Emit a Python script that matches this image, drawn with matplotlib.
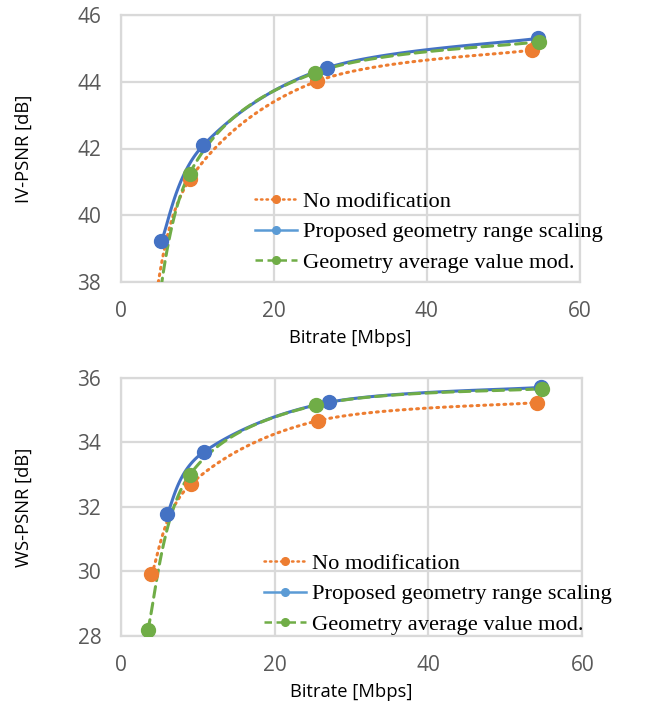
import numpy as np
import matplotlib
matplotlib.use("Agg")
import matplotlib.pyplot as plt
from matplotlib.lines import Line2D

# values (bitrate in Mbps, quality in dB)
iv_no_x = [4.0, 9.1, 25.7, 53.7]
iv_no_y = [36.8, 41.1, 44.02, 44.95]
iv_prop_x = [5.3, 10.8, 27.0, 54.5]
iv_prop_y = [39.22, 42.1, 44.42, 45.3]
iv_avg_x = [3.6, 9.0, 25.4, 54.6]
iv_avg_y = [34.8, 41.25, 44.27, 45.2]

ws_no_x = [4.0, 9.1, 25.7, 54.1]
ws_no_y = [29.91, 32.7, 34.67, 35.23]
ws_prop_x = [6.0, 10.8, 27.1, 54.6]
ws_prop_y = [31.77, 33.7, 35.24, 35.7]
ws_avg_x = [3.5, 9.0, 25.4, 54.8]
ws_avg_y = [28.18, 33.0, 35.15, 35.66]

labels = ["No modification", "Proposed geometry range scaling", "Geometry average value mod."]
c_orange = "#ED7D31"
c_blue = "#4472C4"
c_blue_leg = "#5B9BD5"
c_green = "#70AD47"
grid_c = "#D9D9D9"
tick_c = "#595959"

W, H = 667, 706
fig = plt.figure(figsize=(W / 100, H / 100), dpi=100)


def smooth(ax, xs, ys, n=40):
    # Excel-style smoothed line: bezier through the points, done in screen space
    pts = ax.transData.transform(np.column_stack([xs, ys]))
    p = np.vstack([pts[0], pts, pts[-1]])
    out = []
    for i in range(1, len(p) - 2):
        p0, p1, p2, p3 = p[i - 1], p[i], p[i + 1], p[i + 2]
        c1 = p1 + (p2 - p0) / 6.0
        c2 = p2 - (p3 - p1) / 6.0
        t = np.linspace(0, 1, n)[:, None]
        seg = ((1 - t) ** 3) * p1 + 3 * ((1 - t) ** 2) * t * c1 + 3 * (1 - t) * t ** 2 * c2 + t ** 3 * p2
        out.append(seg if i == 1 else seg[1:])
    out = np.vstack(out)
    d = ax.transData.inverted().transform(out)
    return d[:, 0], d[:, 1]


def panel(rect, ylim, yticks, ylabel, series, leg_pos):
    ax = fig.add_axes(rect)
    ax.set_xlim(0, 60)
    ax.set_ylim(*ylim)
    ax.set_xticks([0, 20, 40, 60])
    ax.set_yticks(yticks)
    ax.grid(True, color=grid_c, lw=1.6)
    ax.set_axisbelow(True)
    for s in ax.spines.values():
        s.set_color(grid_c)
        s.set_linewidth(1.6)
    ax.tick_params(length=0, labelsize=15, labelcolor=tick_c, pad=14)
    for lab in ax.get_xticklabels() + ax.get_yticklabels():
        lab.set_fontfamily("Open Sans")
    ax.set_xlabel("Bitrate [Mbps]", fontsize=13.2, fontfamily="Open Sans", labelpad=5)
    ax.set_ylabel(ylabel, fontsize=13.2, fontfamily="Open Sans", labelpad=32)

    styles = [(c_orange, (0, (0.6, 1.6))), (c_blue, "-"), (c_green, (0, (3.5, 2)))]
    for (xs, ys), (col, ls) in zip(series, styles):
        sx, sy = smooth(ax, xs, ys)
        ax.plot(sx, sy, color=col, lw=2.2, ls=ls, dash_capstyle="round" if ls != "-" else "butt", zorder=3)
        ax.plot(xs, ys, ls="none", marker="o", ms=10, color=col, zorder=4)

    handles = [
        Line2D([], [], color=c_orange, lw=1.8, ls=(0, (0.6, 1.6)), dash_capstyle="round",
               marker="o", ms=5.5),
        Line2D([], [], color=c_blue_leg, lw=1.8, marker="o", ms=5.5),
        Line2D([], [], color=c_green, lw=1.8, ls=(0, (3, 1.8)), marker="o", ms=5.5),
    ]
    ax.legend(handles, labels, loc="center left", bbox_to_anchor=leg_pos,
              bbox_transform=fig.transFigure, frameon=False,
              prop={"family": "Liberation Serif", "size": 16.2},
              handlelength=1.85, handletextpad=0.3, labelspacing=0.42,
              borderpad=0, borderaxespad=0)
    return ax


panel([120.7 / W, 1 - 282 / H, 459.3 / W, 267 / H], (38, 46), [38, 40, 42, 44, 46],
      "IV-PSNR [dB]",
      [(iv_no_x, iv_no_y), (iv_prop_x, iv_prop_y), (iv_avg_x, iv_avg_y)],
      (255 / W, 1 - 232 / H))
panel([120.7 / W, 1 - 636 / H, 461.6 / W, 258.3 / H], (28, 36), [28, 30, 32, 34, 36],
      "WS-PSNR [dB]",
      [(ws_no_x, ws_no_y), (ws_prop_x, ws_prop_y), (ws_avg_x, ws_avg_y)],
      (264 / W, 1 - 594 / H))

fig.savefig("out.png", dpi=100)
